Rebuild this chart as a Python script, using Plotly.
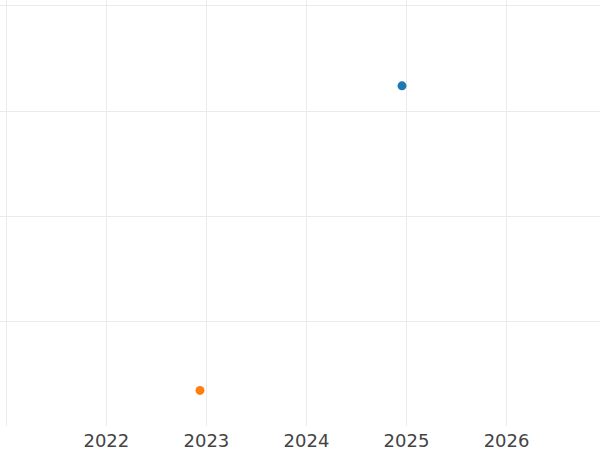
import plotly.graph_objects as go

series_names = ["A", "B"]
x_values = [[2024.955], [2022.936]]
y_values = [[3.24], [0.34]]
colors = ["#1f77b4", "#ff7f0e"]

fig = go.Figure()
for name, xs, ys, c in zip(series_names, x_values, y_values, colors):
    fig.add_trace(go.Scatter(x=xs, y=ys, mode="markers", name=name,
                             marker=dict(color=c, size=9)))

fig.update_layout(
    width=600, height=450,
    margin=dict(l=0, r=0, t=0, b=24),
    paper_bgcolor="white", plot_bgcolor="white",
    showlegend=False,
    font=dict(family="DejaVu Sans", size=18, color="#444"),
)
fig.update_xaxes(range=[2020.937, 2026.934], dtick=1, tick0=2021,
                 showgrid=True, gridcolor="#ebebeb", gridwidth=1,
                 zeroline=False, showline=False, ticks="",
                 tickformat="d", automargin=False, ticklabelstandoff=2)
fig.update_yaxes(range=[0.001, 4.057], dtick=1, tick0=0,
                 showgrid=True, gridcolor="#ebebeb", gridwidth=1,
                 zeroline=False, showline=False, showticklabels=False,
                 ticks="", automargin=False)

fig.write_html("out.html",
               config={"displayModeBar": False},
               post_script="document.body.style.margin='0';document.body.style.overflow='hidden';")
